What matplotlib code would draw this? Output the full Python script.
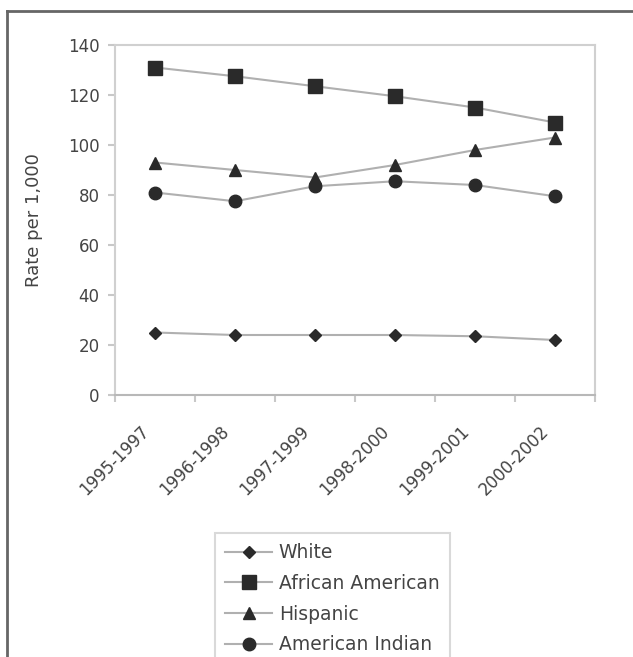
import matplotlib.pyplot as plt
import matplotlib.transforms as mtransforms
from matplotlib.lines import Line2D

# three-year rolling windows
periods = ['1995-1997', '1996-1998', '1997-1999', '1998-2000', '1999-2001', '2000-2002']

white = [25, 24, 24, 24, 23.5, 22]
african_american = [131, 127.5, 123.5, 119.5, 115, 109]
hispanic = [93, 90, 87, 92, 98, 103]
american_indian = [81, 77.5, 83.5, 85.5, 84, 79.5]

plt.rcParams['font.family'] = 'DejaVu Sans'
txt = '#444444'
line_c = '#b0b0b0'
mk_c = '#2a2a2a'

fig = plt.figure(figsize=(6.33, 6.57), dpi=100)
ax = fig.add_axes([115 / 633, 1 - 395 / 657, 480 / 633, 350 / 657])

x = [i + 0.5 for i in range(len(periods))]
ax.plot(x, white, color=line_c, lw=1.5, marker='D', ms=6, mfc=mk_c, mec=mk_c, label='White')
ax.plot(x, african_american, color=line_c, lw=1.5, marker='s', ms=10, mfc=mk_c, mec=mk_c, label='African American')
ax.plot(x, hispanic, color=line_c, lw=1.5, marker='^', ms=9, mfc=mk_c, mec=mk_c, label='Hispanic')
ax.plot(x, american_indian, color=line_c, lw=1.5, marker='o', ms=9, mfc=mk_c, mec=mk_c, label='American Indian')

ax.set_xlim(0, len(periods))
ax.set_ylim(0, 140)
ax.set_yticks(range(0, 141, 20))
ax.set_xticks(range(0, len(periods) + 1))
ax.set_xticklabels([])
ax.set_xticks(x, minor=True)
ax.set_xticklabels(periods, minor=True, rotation=45, ha='right', va='top',
                   rotation_mode='anchor', fontsize=12, color=txt)
ax.tick_params(axis='x', which='minor', length=0, pad=8)
ax.tick_params(axis='x', which='major', length=5, color='#c8c8c8', width=1.5)
ax.tick_params(axis='y', length=5, color='#c8c8c8', width=1.5, labelsize=12, labelcolor=txt, pad=6)

# nudge the slanted period labels down and to the left
shift = mtransforms.ScaledTranslation(-15 / 100, -16 / 100, fig.dpi_scale_trans)
for lab in ax.get_xticklabels(minor=True):
    lab.set_transform(lab.get_transform() + shift)

for s in ax.spines.values():
    s.set_color('#d0d0d0')
    s.set_linewidth(1.5)
ax.spines['bottom'].set_color('#b8b8b8')

ax.set_ylabel('Rate per 1,000', fontsize=13, color=txt, labelpad=18)

# outer frame around the chart (continues past the right and bottom edges)
fig.add_artist(Line2D([7 / 633, 7 / 633], [0, 1 - 11 / 657], transform=fig.transFigure, color='#666666', lw=2))
fig.add_artist(Line2D([7 / 633, 1], [1 - 11 / 657, 1 - 11 / 657], transform=fig.transFigure, color='#666666', lw=2))

leg = fig.legend(loc='upper left', bbox_to_anchor=(215 / 633, 1 - 533 / 657), fontsize=13.5,
                 frameon=True, fancybox=False, edgecolor='#d0d0d0', labelspacing=0.62,
                 handlelength=2.5, handletextpad=0.35, borderpad=0.55, borderaxespad=0,
                 labelcolor=txt)
leg.get_frame().set_linewidth(1.5)

fig.savefig('out.png', dpi=100)
